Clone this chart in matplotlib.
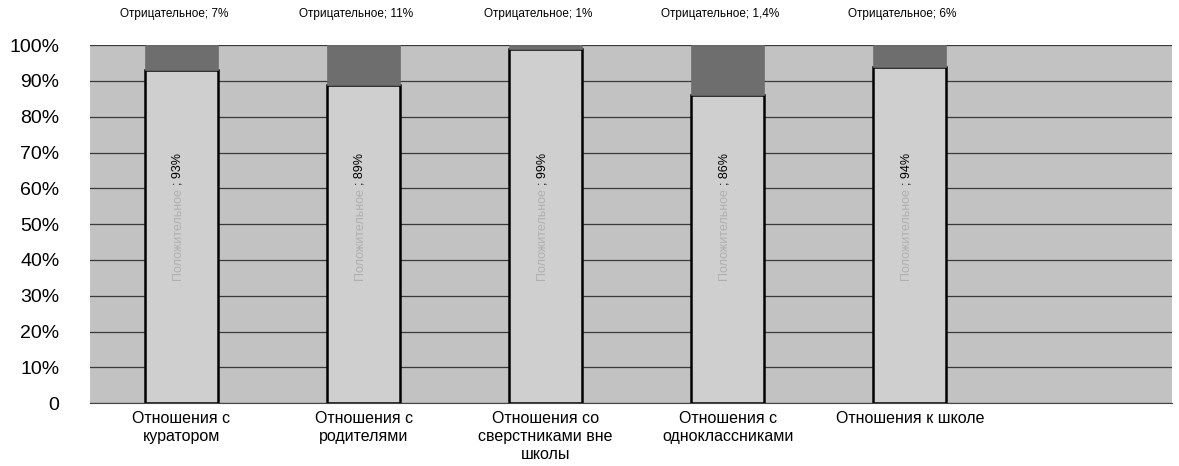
import numpy as np
import matplotlib.pyplot as plt

plt.rcParams['font.family'] = ['Liberation Sans', 'DejaVu Sans']

categories = ['Отношения с\nкуратором', 'Отношения с\nродителями',
              'Отношения со\nсверстниками вне\nшколы',
              'Отношения с\nодноклассниками', 'Отношения к школе']
positive = [93, 89, 99, 86, 94]
negative = [7, 11, 1, 14, 6]
neg_labels = ['Отрицательное; 7%', 'Отрицательное; 11%', 'Отрицательное; 1%',
              'Отрицательное; 1,4%', 'Отрицательное; 6%']
pos_word = 'Положительное'
yticks = [0, 10, 20, 30, 40, 50, 60, 70, 80, 90, 100]
ytick_labels = ['0', '10%', '20%', '30%', '40%', '50%', '60%', '70%', '80%', '90%', '100%']

fig = plt.figure(figsize=(11.79, 4.66), dpi=100)
ax = fig.add_axes([0.0763, 0.135, 0.9177, 0.768])
ax.set_facecolor('#c2c2c2')

x = np.arange(len(categories))
w = 0.40
ax.bar(x, positive, width=w, color='#cfcfcf', edgecolor='black', linewidth=1.8, zorder=3)
ax.bar(x, negative, width=w, bottom=positive, color='#6e6e6e', edgecolor='#6e6e6e',
       linewidth=0.5, zorder=3)

for i in range(len(categories)):
    ax.text(x[i] - 0.02, 61, '; %d%%' % positive[i], rotation=90, ha='center', va='bottom',
            fontsize=9, color='black', zorder=4)
    ax.text(x[i] - 0.02, 60, pos_word, rotation=90, ha='center', va='top',
            fontsize=9, color='#b0b0b0', zorder=4)
    ax.text(x[i] - 0.04, 108.7, neg_labels[i], ha='center', va='center',
            fontsize=8.5, clip_on=False)

ax.set_xlim(-0.503, 5.44)
ax.set_ylim(0, 100)
ax.set_yticks(yticks)
ax.set_yticklabels(ytick_labels, fontsize=14)
ax.set_xticks(x)
ax.set_xticklabels(categories, fontsize=11.5, va='top', linespacing=1.25)
ax.tick_params(axis='both', length=0, pad=6)
ax.tick_params(axis='y', pad=22)
for lbl in ax.get_yticklabels():
    lbl.set_horizontalalignment('right')
ax.yaxis.grid(True, color='#3a3a3a', linewidth=0.9, zorder=1)
ax.set_axisbelow(True)
for s in ['top', 'right', 'left']:
    ax.spines[s].set_visible(False)
ax.spines['bottom'].set_color('#444444')

fig.savefig('out.png', dpi=100)
